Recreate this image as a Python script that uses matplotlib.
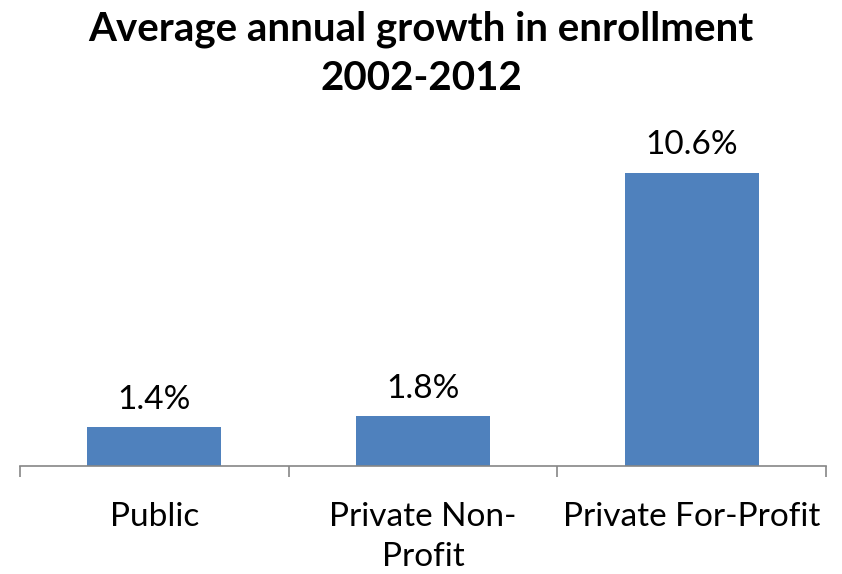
import matplotlib.pyplot as plt

categories = ["Public", "Private Non-\nProfit", "Private For-Profit"]
growth = [1.4, 1.8, 10.6]
value_labels = ["1.4%", "1.8%", "10.6%"]

plt.rcParams['font.family'] = ['Lato', 'DejaVu Sans']

fig = plt.figure(figsize=(8.42, 5.74), dpi=100)
ax = fig.add_axes([20 / 842, 1 - 466 / 574, 806 / 842, 332 / 574])

x = range(len(categories))
bars = ax.bar(x, growth, width=0.5, color='#4f81bd')

for bar, lab in zip(bars, value_labels):
    ax.annotate(lab, (bar.get_x() + bar.get_width() / 2, bar.get_height()),
                xytext=(0, 9), textcoords='offset points',
                ha='center', va='bottom', fontsize=24)

ax.set_xlim(-0.5, 2.5)
ax.set_ylim(0, 12)
ax.set_yticks([])
ax.set_xticks([-0.5, 0.5, 1.5, 2.5])
ax.set_xticklabels([])
ax.set_xticks(list(x), minor=True)
ax.set_xticklabels(categories, minor=True, fontsize=24, linespacing=1.4)
ax.tick_params(axis='x', which='major', length=8, width=1.2, color='#868686')
ax.tick_params(axis='x', which='minor', length=0, pad=26)
for side in ['top', 'right', 'left']:
    ax.spines[side].set_visible(False)
ax.spines['bottom'].set_color('#868686')
ax.spines['bottom'].set_linewidth(1.2)

fig.text(0.5, 1 - 54 / 574, "Average annual growth in enrollment\n2002-2012",
         ha='center', va='center', fontsize=29, fontweight='bold', linespacing=1.4)

fig.savefig('out.png', dpi=100)
